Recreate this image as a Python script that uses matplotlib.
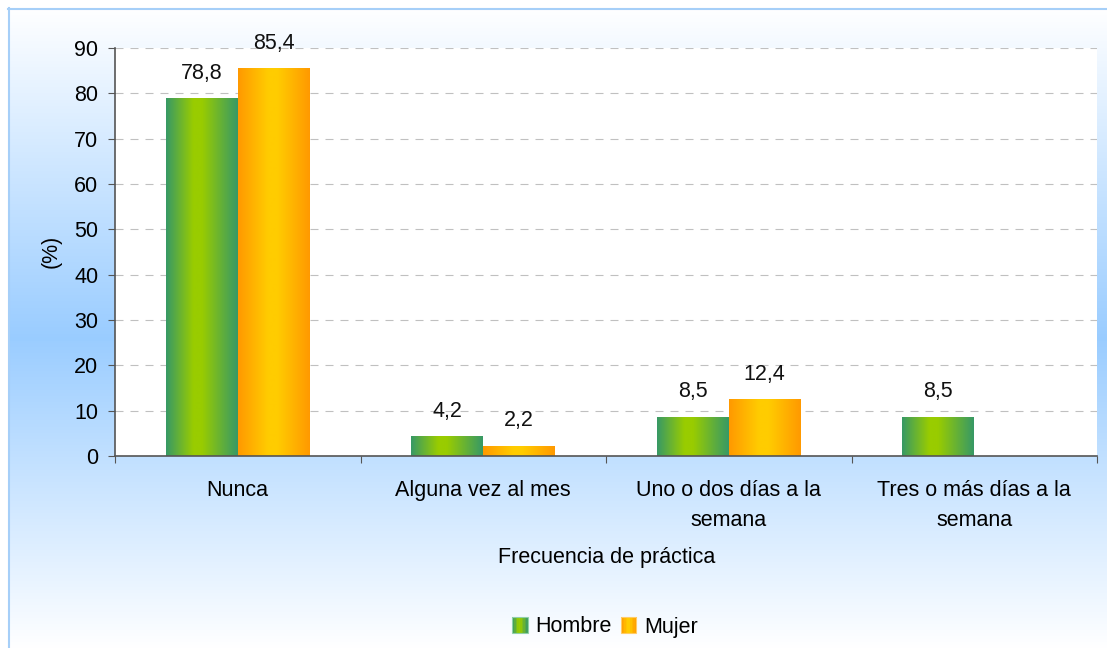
import numpy as np
import matplotlib
matplotlib.use('Agg')
import matplotlib.pyplot as plt
from matplotlib.colors import LinearSegmentedColormap, to_rgb
from matplotlib.patches import Rectangle
from matplotlib.legend_handler import HandlerBase

# ---------------- data ----------------
categories = ["Nunca", "Alguna vez al mes", "Uno o dos días a la\nsemana",
              "Tres o más días a la\nsemana"]
hombre = [78.8, 4.2, 8.5, 8.5]
mujer = [85.4, 2.2, 12.4, np.nan]
series_names = ["Hombre", "Mujer"]
yticks = [0, 10, 20, 30, 40, 50, 60, 70, 80, 90]
xlabel = "Frecuencia de práctica"
ylabel = "(%)"

plt.rcParams['font.family'] = ['Liberation Sans', 'DejaVu Sans']
FS = 15.5

W, H = 1107, 648
fig = plt.figure(figsize=(W / 100, H / 100), dpi=100)

# ---------------- background gradient ----------------
bg = fig.add_axes([0, 0, 1, 1], zorder=-10)
bg.set_xlim(0, W)
bg.set_ylim(H, 0)
bg.axis('off')
blue = np.array(to_rgb('#99ccff'))
white = np.array([1.0, 1.0, 1.0])
ys = np.arange(H)
col = np.zeros((H, 1, 3))
for i, y in enumerate(ys):
    if y <= 340:
        t = max(0.0, (y - 8) / (340 - 8))
    else:
        t = max(0.0, 1 - (y - 340) / (H - 340)) * 0.98
    col[i, 0] = white * (1 - t) + blue * t
bg.imshow(col, extent=[0, W, H, 0], aspect='auto', interpolation='bilinear')
bg.add_patch(Rectangle((0, 0), W, 8, color='white', lw=0))
bg.add_patch(Rectangle((0, 0), 8, H, color='white', lw=0))
bg.plot([8, W], [8.5, 8.5], color='#a6cff8', lw=1.5)
bg.plot([8.5, 8.5], [8, H], color='#a6cff8', lw=1.5)

# ---------------- main axes ----------------
L, R, T, B = 115, 1097, 48, 456
ax = fig.add_axes([L / W, 1 - B / H, (R - L) / W, (B - T) / H])
ax.set_facecolor('white')

green_cmap = LinearSegmentedColormap.from_list(
    'g', [(0, '#379966'), (0.38, '#99cc00'), (0.5, '#99cc00'), (1, '#379966')])
orange_cmap = LinearSegmentedColormap.from_list(
    'o', [(0, '#ff9900'), (0.42, '#ffcc00'), (0.55, '#ffcc00'), (1, '#ff9900')])
grad = np.linspace(0, 1, 256).reshape(1, -1)

x = np.arange(len(categories))
w = 0.293
bars_h = ax.bar(x - w / 2, np.nan_to_num(hombre), w, color='none', zorder=2)
bars_m = ax.bar(x + w / 2, np.nan_to_num(mujer), w, color='none', zorder=2)

for bars, vals, cmap in [(bars_h, hombre, green_cmap), (bars_m, mujer, orange_cmap)]:
    for p, v in zip(bars.patches, vals):
        if np.isnan(v):
            continue
        x0, bw, bh = p.get_x(), p.get_width(), p.get_height()
        ax.imshow(grad, extent=[x0, x0 + bw, 0, bh], aspect='auto', cmap=cmap,
                  zorder=2, interpolation='bilinear')
        ax.annotate(f"{v:.1f}".replace('.', ','), (x0 + bw / 2, bh),
                    xytext=(0, 14.5), textcoords='offset points',
                    ha='center', va='baseline', fontsize=FS, color='#111111')

ax.set_xlim(-0.5, len(categories) - 0.5)
ax.set_ylim(0, 90)
ax.set_yticks(yticks)
ax.yaxis.grid(True, linestyle=(0, (7.2, 6.3)), color='#c0c0c0', lw=0.8)
ax.set_axisbelow(True)
for s in ['top', 'right']:
    ax.spines[s].set_visible(False)
for s in ['left', 'bottom']:
    ax.spines[s].set_color('#555555')
    ax.spines[s].set_linewidth(1.2)

ax.set_xticks(np.arange(len(categories) + 1) - 0.5)
ax.set_xticklabels([])
ax.set_xticks(x, minor=True)
ax.set_xticklabels(categories, minor=True, fontsize=FS, linespacing=1.6)
ax.tick_params(axis='x', which='major', length=5, direction='out', color='#555555')
ax.tick_params(axis='x', which='minor', length=0, pad=17)
ax.tick_params(axis='y', length=5, direction='out', color='#555555', labelsize=FS, pad=7)

fig.text(51 / W, 1 - 251 / H, ylabel, rotation=90, ha='center', va='center', fontsize=FS)
fig.text(607 / W, 1 - 558 / H, xlabel, ha='center', va='center', fontsize=FS)


# ---------------- legend ----------------
class GradHandler(HandlerBase):
    def __init__(self, cmap, edge):
        super().__init__()
        self.cmap = cmap
        self.edge = edge

    def create_artists(self, legend, orig_handle, xdescent, ydescent, width,
                       height, fontsize, trans):
        arts = []
        n = 10
        for k in range(n):
            arts.append(Rectangle((-xdescent + k * width / n, -ydescent),
                                  width / n + 0.2, height,
                                  facecolor=self.cmap((k + 0.5) / n), lw=0,
                                  transform=trans))
        arts.append(Rectangle((-xdescent, -ydescent), width, height,
                              facecolor='none', edgecolor=self.edge, lw=0.8,
                              transform=trans))
        return arts


hh = Rectangle((0, 0), 1, 1)
hm = Rectangle((0, 0), 1, 1)
fig.legend([hh, hm], series_names, loc='center',
           bbox_to_anchor=(605 / W, 1 - 627 / H), ncol=2, frameon=False,
           fontsize=FS, handlelength=0.7, handleheight=0.7, handletextpad=0.35,
           columnspacing=0.45,
           handler_map={hh: GradHandler(green_cmap, '#8fd0a8'),
                        hm: GradHandler(orange_cmap, '#ffcc66')})

fig.savefig('out.png', dpi=100)
